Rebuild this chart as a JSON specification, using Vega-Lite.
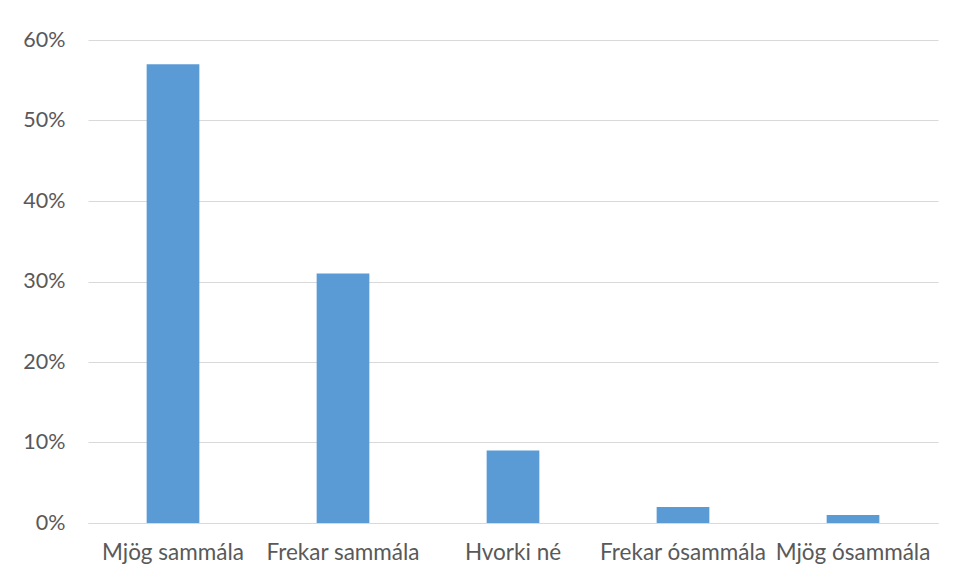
{
  "$schema": "https://vega.github.io/schema/vega-lite/v6.json",
  "width": 850,
  "height": 483,
  "autosize": {"type": "none"},
  "padding": {"left": 88, "top": 40, "right": 19, "bottom": 56},
  "background": "white",
  "config": {
    "view": {"stroke": null},
    "font": "Lato",
    "axis": {"labelFont": "Lato", "labelFontSize": 21.5, "labelColor": "#595959", "labelFontWeight": "normal"}
  },
  "data": {
    "values": [
      {"category": "Mjög sammála", "value": 0.57},
      {"category": "Frekar sammála", "value": 0.31},
      {"category": "Hvorki né", "value": 0.09},
      {"category": "Frekar ósammála", "value": 0.02},
      {"category": "Mjög ósammála", "value": 0.01}
    ]
  },
  "mark": {"type": "bar", "color": "#5b9bd5"},
  "encoding": {
    "x": {
      "field": "category",
      "type": "nominal",
      "sort": null,
      "scale": {"paddingInner": 0.69, "paddingOuter": 0.345},
      "axis": {
        "title": null,
        "labelAngle": 0,
        "ticks": false,
        "domainColor": "#d9d9d9",
        "domainWidth": 1,
        "labelPadding": 18,
        "labelFontSize": 22.5
      }
    },
    "y": {
      "field": "value",
      "type": "quantitative",
      "scale": {"domain": [0, 0.6]},
      "axis": {
        "title": null,
        "format": ".0%",
        "values": [0, 0.1, 0.2, 0.3, 0.4, 0.5, 0.6],
        "domain": false,
        "ticks": false,
        "gridColor": "#d9d9d9",
        "labelPadding": 23
      }
    }
  }
}
